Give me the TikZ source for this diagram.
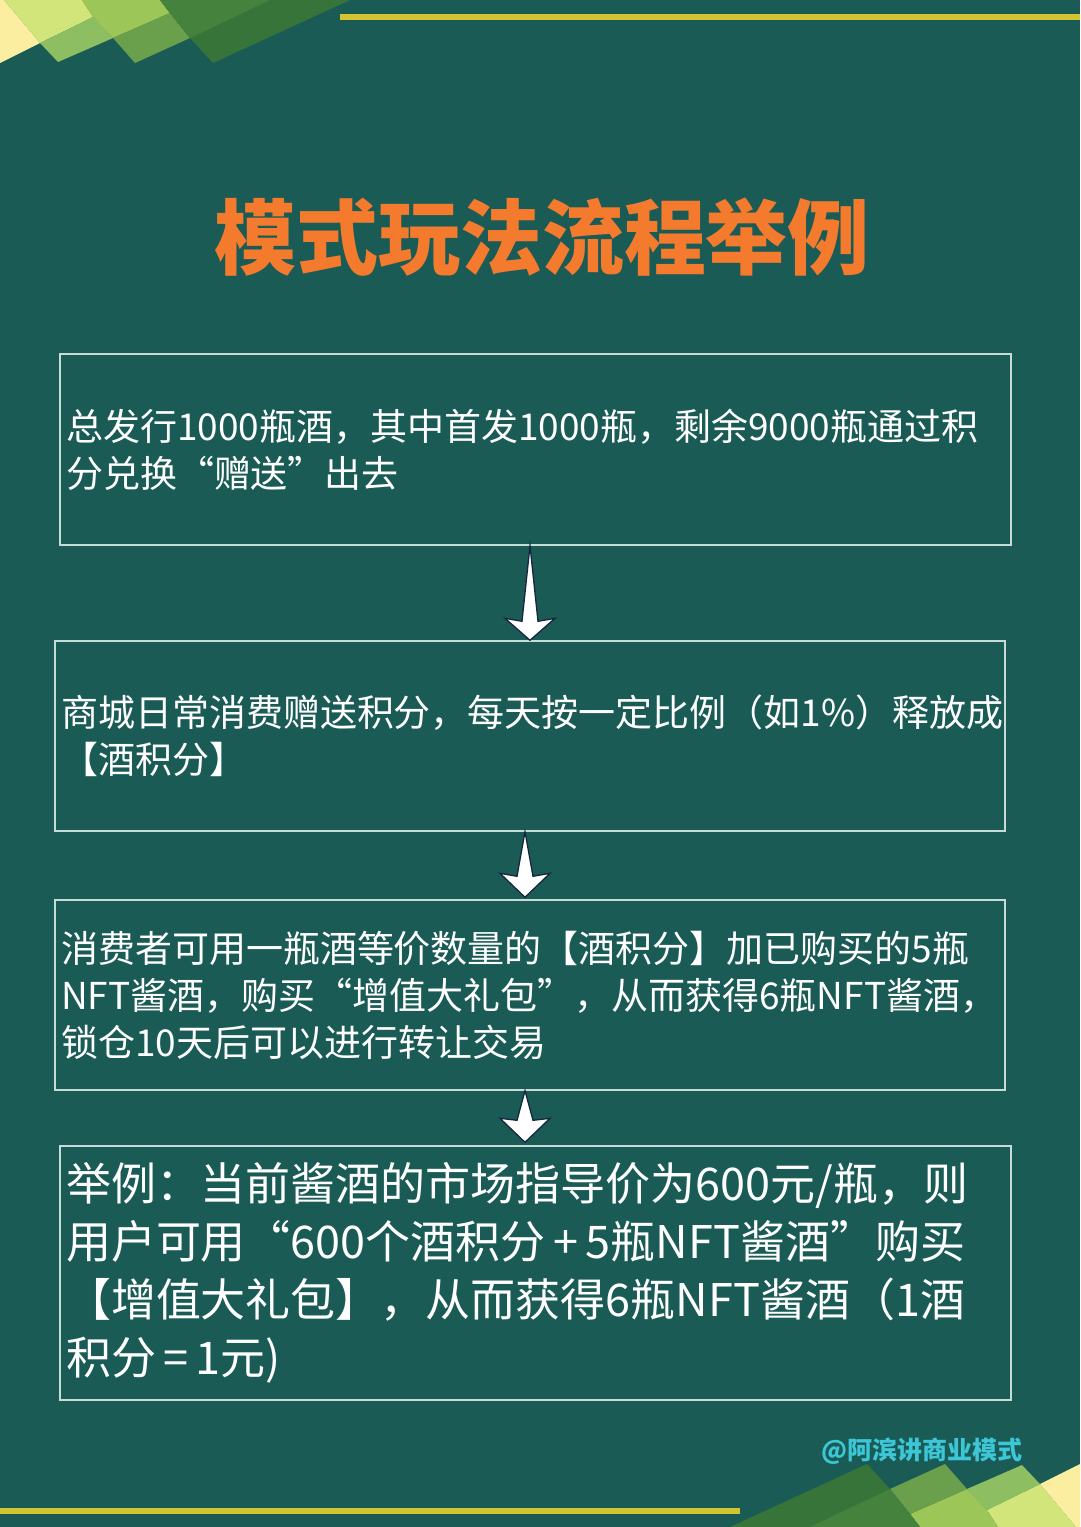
\documentclass[tikz,border=0pt]{standalone}
\usepackage{fontspec}
\setmainfont{Noto Sans CJK SC}
\usetikzlibrary{calc}
\definecolor{bg}{HTML}{1A5B56}
\definecolor{edgec}{HTML}{C6DCD8}
\definecolor{titlec}{HTML}{F47B2E}
\definecolor{wmc}{HTML}{3CC6D6}
\definecolor{linec}{HTML}{D3C530}
\definecolor{arrowedge}{HTML}{17263F}
\definecolor{dA}{HTML}{FBEEA0}
\definecolor{dB}{HTML}{D2E57A}
\definecolor{dC}{HTML}{8DBE62}
\definecolor{dD}{HTML}{9DC658}
\definecolor{dE}{HTML}{6A9F4C}
\definecolor{dF}{HTML}{37743A}
\definecolor{dG}{HTML}{44823D}
\newcommand{\myDecoShapes}{%
  \fill[dA] (0,0) -- (4,0) -- (40,43) -- (0,63) -- cycle;
  \fill[dB] (4,0) -- (82,0) -- (93,17) -- (40,43) -- cycle;
  \fill[dC] (40,43) -- (58,62) -- (113,38) -- (93,17) -- cycle;
  \fill[dD] (82,0) -- (160,0) -- (170,13) -- (113,38) -- (93,17) -- cycle;
  \fill[dE] (113,38) -- (135,63) -- (190,38) -- (170,13) -- cycle;
  \fill[dF] (160,0) -- (350,0) -- (213,63) -- (190,38) -- (170,13) -- cycle;
  \fill[dG] (160,0) -- (270,0) -- (190,38) -- (170,13) -- cycle;
}
\tikzset{
  flowbox/.style={draw=edgec, line width=1.4pt, inner xsep=6pt, inner ysep=0pt,
    align=left, text=white, anchor=center},
  smalltext/.style={font=\fontsize{37}{47}\selectfont},
  bigtext/.style={font=\fontsize{45}{58}\selectfont},
  downarrow/.style={fill=white, draw=arrowedge, line width=1.3pt, line join=miter}
}
\begin{document}
\begin{tikzpicture}[x=1pt,y=-1pt]
\useasboundingbox (0,0) rectangle (1080,1527);
\fill[bg] (0,0) rectangle (1080,1527);

% decorations
\begin{scope}
  \myDecoShapes
\end{scope}
\begin{scope}[shift={(1080,1527)}, xscale=-1, yscale=-1]
  \myDecoShapes
\end{scope}
\fill[linec] (340,13.5) rectangle (1080,19.5);
\fill[linec] (0,1507.5) rectangle (740,1513.5);

% title
\node[font=\fontsize{82}{82}\selectfont\bfseries, text=titlec] (title) at (542,237) {模式玩法流程举例};

% boxes
\node[flowbox, smalltext, text width=939pt, minimum width=951pt, minimum height=191pt] (b1) at (535.5,449.5)
  {总发行1000瓶酒，其中首发1000瓶，剩余9000瓶通过积\\分兑换“赠送”出去};
\node[flowbox, smalltext, text width=938pt, minimum width=950pt, minimum height=190pt] (b2) at (530,736)
  {商城日常消费赠送积分，每天按一定比例（如1\%）释放成\\【酒积分】};
\node[flowbox, smalltext, text width=938pt, minimum width=950pt, minimum height=190pt] (b3) at (530,995)
  {消费者可用一瓶酒等价数量的【酒积分】加已购买的5瓶\\NFT酱酒，购买“增值大礼包”，从而获得6瓶NFT酱酒，\\锁仓10天后可以进行转让交易};
\node[flowbox, bigtext, text width=939pt, minimum width=951pt, minimum height=254pt] (b4) at (535.5,1273)
  {举例：当前酱酒的市场指导价为600元/瓶，则\\用户可用“600个酒积分\,+\,5瓶NFT酱酒”购买\\【增值大礼包】，从而获得6瓶NFT酱酒（1酒\\积分\,=\,1元)};

% arrow anchor points
\coordinate (a1s) at ([xshift=-5.5pt]b1.south);
\coordinate (a1e) at (b2.north);
\coordinate (a2s) at ([xshift=-5pt]b2.south);
\coordinate (a2e) at ([xshift=-5pt,yshift=2pt]b3.north);
\coordinate (a3s) at ([xshift=-5pt]b3.south);
\coordinate (a3e) at ([xshift=-10.5pt,yshift=3pt]b4.north);

\draw[downarrow] (a1s) -- ($(a1e)+(8,-19)$) -- ($(a1e)+(25,-22)$) -- (a1e)
  -- ($(a1e)+(-25,-22)$) -- ($(a1e)+(-8,-19)$) -- cycle;
\draw[downarrow] (a2s) -- ($(a2e)+(8,-21)$) -- ($(a2e)+(25,-24)$) -- (a2e)
  -- ($(a2e)+(-25,-24)$) -- ($(a2e)+(-8,-21)$) -- cycle;
\draw[downarrow] (a3s) -- ($(a3e)+(8,-22)$) -- ($(a3e)+(25,-24)$) -- (a3e)
  -- ($(a3e)+(-25,-24)$) -- ($(a3e)+(-8,-22)$) -- cycle;

% watermark
\node[font=\fontsize{25}{25}\selectfont\bfseries, text=wmc] (wm) at (922,1451) {@阿滨讲商业模式};
\end{tikzpicture}
\end{document}
